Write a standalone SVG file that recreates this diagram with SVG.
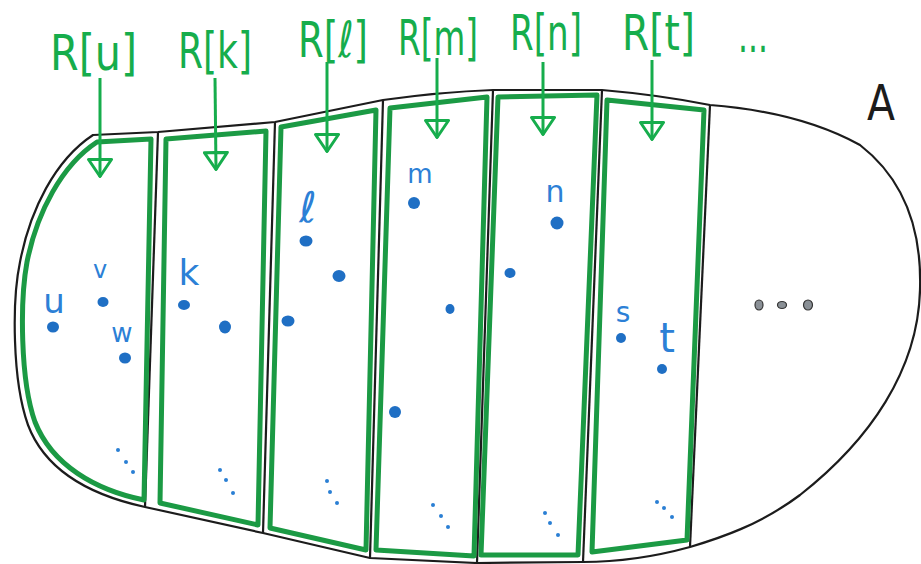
<svg xmlns="http://www.w3.org/2000/svg" width="921" height="564" viewBox="0 0 921 564">
<style>
.outline{fill:none;stroke:#1c1c1c;stroke-width:2.2;stroke-linejoin:round}
.div{stroke:#1c1c1c;stroke-width:2.2;fill:none}
.reg{fill:none;stroke:#1b9a44;stroke-width:5;stroke-linejoin:round}
.lbl{font-family:"DejaVu Sans","Liberation Sans",sans-serif;font-size:50px;fill:#16ad4c}
.conn{stroke:#16ad4c;stroke-width:3;fill:none;marker-end:url(#head)}
.pl{font-family:"DejaVu Sans","Liberation Sans",sans-serif;fill:#2c80d6;text-anchor:middle}
.pt{fill:#1f6fc4}
.el{fill:#2a7fd4}
.gd{fill:#8a9096;stroke:#333;stroke-width:1.2}
</style>
<defs>
<marker id="head" viewBox="0 0 20 26" refX="19" refY="13" markerWidth="20" markerHeight="26" markerUnits="userSpaceOnUse" orient="auto">
<path d="M1.5,1.5 L1.5,24.5 L18.5,13 Z" fill="none" stroke="#16ad4c" stroke-width="3" stroke-linejoin="round"/>
</marker>
</defs>
<rect width="921" height="564" fill="#ffffff"/>

<g id="A">
<path class="outline" d="M93,135 L158,132 L275,122 L383,100 Q440,92 493,90 L602,90 Q660,95 710,105 Q800,112 860,145 C905,180 922,230 920,290 C918,370 870,440 800,495 C760,525 720,538 690,547 C650,558 610,562 583,562 L477,563 L370,558 L263,533 L145,507 C90,495 45,470 28,425 C12,380 12,300 20,262 C30,210 55,160 93,135 Z"/>
<line class="div" x1="158" y1="132" x2="145" y2="507"/>
<line class="div" x1="275" y1="122" x2="263" y2="533"/>
<line class="div" x1="383" y1="100" x2="370" y2="558"/>
<line class="div" x1="493" y1="90" x2="477" y2="563"/>
<line class="div" x1="602" y1="90" x2="583" y2="562"/>
<line class="div" x1="710" y1="105" x2="690" y2="547"/>
<text x="881" y="120" font-family="DejaVu Sans, Liberation Sans, sans-serif" font-size="50" fill="#1c1c1c" text-anchor="middle" textLength="28" lengthAdjust="spacingAndGlyphs">A</text>
<g id="more-points">
<ellipse class="gd" cx="759" cy="305" rx="4" ry="5"/>
<ellipse class="gd" cx="782" cy="305" rx="4.5" ry="3.5"/>
<ellipse class="gd" cx="808" cy="305" rx="4.5" ry="5"/>
</g>
</g>

<g id="R-u">
<path class="reg" d="M97,142 L151,139 L144,500 C95,490 52,465 35,422 C20,380 20,300 27,262 C37,212 62,165 97,142 Z"/>
<text class="lbl" x="50" y="70" textLength="87" lengthAdjust="spacingAndGlyphs">R[u]</text>
</g>
<g id="R-k">
<path class="reg" d="M166,139 L266,131 L258,525 L160,503 Z"/>
<text class="lbl" x="178" y="68" textLength="74" lengthAdjust="spacingAndGlyphs">R[k]</text>
</g>
<g id="R-l">
<path class="reg" d="M281,127 L376,110 L366,550 L270,528 Z"/>
<text class="lbl" x="298" y="57" textLength="70" lengthAdjust="spacingAndGlyphs">R[ℓ]</text>
</g>
<g id="R-m">
<path class="reg" d="M390,108 L487,97 L474,556 L376,550 Z"/>
<text class="lbl" x="398" y="55" textLength="80" lengthAdjust="spacingAndGlyphs">R[m]</text>
</g>
<g id="R-n">
<path class="reg" d="M498,97 L597,95 L578,555 L481,555 Z"/>
<text class="lbl" x="510" y="50" textLength="72" lengthAdjust="spacingAndGlyphs">R[n]</text>
</g>
<g id="R-t">
<path class="reg" d="M607,100 L704,110 L687,540 L592,552 Z"/>
<text class="lbl" x="622" y="50" textLength="73" lengthAdjust="spacingAndGlyphs">R[t]</text>
</g>
<g id="R-more">
<text class="lbl" x="738" y="52" font-size="30" textLength="30" lengthAdjust="spacingAndGlyphs">...</text>
</g>

<g id="connectors">
<line class="conn" x1="100" y1="78" x2="100" y2="177"/>
<line class="conn" x1="215" y1="78" x2="216" y2="170"/>
<line class="conn" x1="327" y1="62" x2="327" y2="152"/>
<line class="conn" x1="437" y1="58" x2="437" y2="138"/>
<line class="conn" x1="543" y1="62" x2="543" y2="135"/>
<line class="conn" x1="652" y1="60" x2="652" y2="140"/>
</g>

<g id="p-u"><text class="pl" x="54" y="313" font-size="34">u</text><ellipse class="pt" cx="53" cy="327" rx="6" ry="5.5"/></g>
<g id="p-v"><text class="pl" x="100" y="278" font-size="24">v</text><ellipse class="pt" cx="103" cy="302" rx="5.5" ry="5"/></g>
<g id="p-w"><text class="pl" x="122" y="342" font-size="26">w</text><ellipse class="pt" cx="125" cy="358" rx="6" ry="5.5"/></g>
<g id="dots-u"><circle class="el" cx="118" cy="450" r="2"/><circle class="el" cx="126" cy="462" r="2"/><circle class="el" cx="133" cy="472" r="2"/></g>

<g id="p-k"><text class="pl" x="189" y="285" font-size="36">k</text><ellipse class="pt" cx="184" cy="305" rx="6" ry="5"/></g>
<g id="p-k2"><ellipse class="pt" cx="225" cy="327" rx="6" ry="6.5"/></g>
<g id="dots-k"><circle class="el" cx="220" cy="470" r="2"/><circle class="el" cx="226" cy="480" r="2"/><circle class="el" cx="233" cy="493" r="2"/></g>

<g id="p-l"><text class="pl" x="308" y="222" font-size="42">ℓ</text><ellipse class="pt" cx="306" cy="241" rx="6.5" ry="5.5"/></g>
<g id="p-l2"><ellipse class="pt" cx="339" cy="276" rx="6.5" ry="6"/></g>
<g id="p-l3"><ellipse class="pt" cx="288" cy="321" rx="6.5" ry="5.5"/></g>
<g id="dots-l"><circle class="el" cx="327" cy="481" r="2"/><circle class="el" cx="330" cy="492" r="2"/><circle class="el" cx="337" cy="503" r="2"/></g>

<g id="p-m"><text class="pl" x="420" y="183" font-size="26">m</text><ellipse class="pt" cx="414" cy="203" rx="6" ry="6"/></g>
<g id="p-m2"><ellipse class="pt" cx="450" cy="309" rx="4.5" ry="5"/></g>
<g id="p-m3"><ellipse class="pt" cx="395" cy="412" rx="6" ry="6"/></g>
<g id="dots-m"><circle class="el" cx="433" cy="505" r="2"/><circle class="el" cx="441" cy="516" r="2"/><circle class="el" cx="448" cy="527" r="2"/></g>

<g id="p-n"><text class="pl" x="555" y="202" font-size="30">n</text><ellipse class="pt" cx="557" cy="223" rx="6.5" ry="6.5"/></g>
<g id="p-n2"><ellipse class="pt" cx="510" cy="273" rx="5.5" ry="5"/></g>
<g id="dots-n"><circle class="el" cx="545" cy="513" r="2"/><circle class="el" cx="550" cy="523" r="2"/><circle class="el" cx="558" cy="535" r="2"/></g>

<g id="p-s"><text class="pl" x="623" y="322" font-size="28">s</text><ellipse class="pt" cx="621" cy="338" rx="5" ry="5"/></g>
<g id="p-t"><text class="pl" x="667" y="352" font-size="40">t</text><ellipse class="pt" cx="662" cy="369" rx="5" ry="5"/></g>
<g id="dots-t"><circle class="el" cx="657" cy="502" r="2"/><circle class="el" cx="664" cy="508" r="2"/><circle class="el" cx="672" cy="517" r="2"/></g>
</svg>
